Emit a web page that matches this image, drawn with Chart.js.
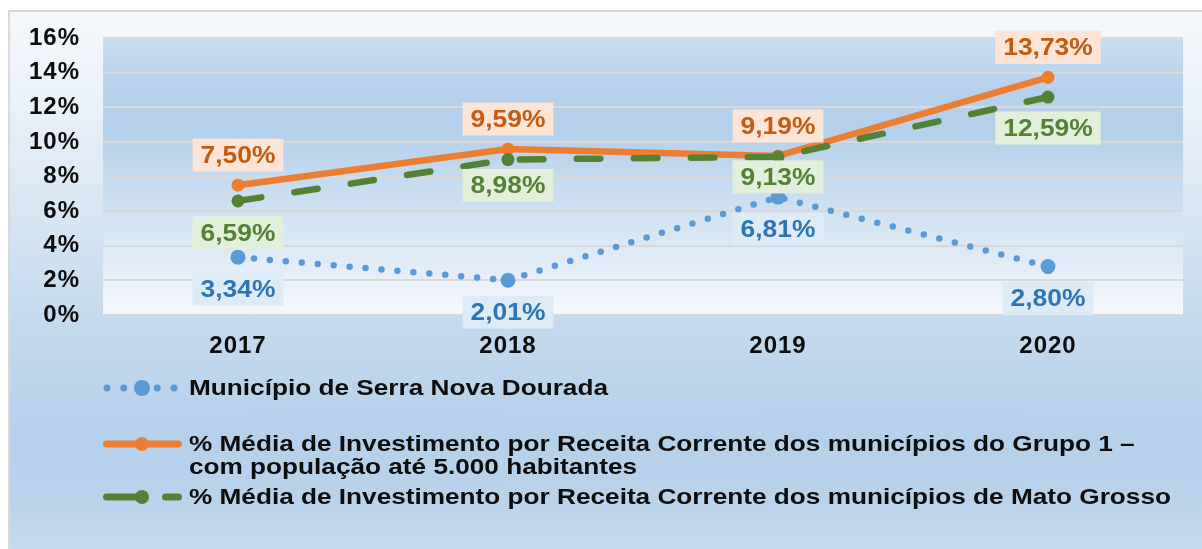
<!DOCTYPE html>
<html lang="pt-BR">
<head>
<meta charset="utf-8">
<script src="https://cdn.jsdelivr.net/npm/chart.js@4/dist/chart.umd.min.js"></script>
<style>
  html, body { margin: 0; padding: 0; background: #fff; }
  #moldura {
    position: absolute; left: 8px; top: 10px; width: 1200px; height: 545px;
    border: 2px solid #d9d9d9;
    background: linear-gradient(to bottom, #f5f8fc 0%, #e9f0f8 18%, #dae7f4 35%, #c3d9ee 58%, #b5d0ea 78%, #bad3eb 90%, #c8dcf0 100%);
  }
  #area { position: absolute; left: 0; top: 0; width: 1202px; height: 549px; }
</style>
</head>
<body>
<div id="moldura"></div>
<div id="area"><canvas id="grafico" width="1202" height="549"></canvas></div>
<script>
// Anos e percentuais de investimento por receita corrente
const anos = ['2017', '2018', '2019', '2020'];
const serraNovaDourada = [3.34, 2.01, 6.81, 2.80];
const grupo1 = [7.50, 9.59, 9.19, 13.73];
const matoGrosso = [6.59, 8.98, 9.13, 12.59];
const ticksY = [0, 2, 4, 6, 8, 10, 12, 14, 16];

const nomes = [
    'Município de Serra Nova Dourada',
    '% Média de Investimento por Receita Corrente dos municípios do Grupo 1 –\ncom população até 5.000 habitantes',
    '% Média de Investimento por Receita Corrente dos municípios de Mato Grosso'
];

const FONTE = '"Liberation Sans", Arial, sans-serif';

function formatarPct(v) {
    return v.toFixed(2).replace('.', ',') + '%';
}

// fundo degradê da área de plotagem
const fundoPlot = {
    id: 'fundoPlot',
    beforeDraw(chart) {
        const {ctx, chartArea: a} = chart;
        const g = ctx.createLinearGradient(0, a.top, 0, a.bottom);
        g.addColorStop(0, '#c9ddf0');
        g.addColorStop(0.2, '#b5d0ea');
        g.addColorStop(0.35, '#b5d0ea');
        g.addColorStop(0.5, '#c4daee');
        g.addColorStop(0.7, '#d7e6f4');
        g.addColorStop(0.85, '#e5eef8');
        g.addColorStop(1, '#f5f8fc');
        ctx.save();
        ctx.fillStyle = g;
        ctx.fillRect(a.left, a.top, a.right - a.left, a.bottom - a.top);
        ctx.restore();
        // espaçamento das letras dos eixos
        ctx.letterSpacing = '1px';
    },
    afterDraw(chart) {
        chart.ctx.letterSpacing = '0px';
    }
};

// rótulos de valor com caixa colorida
const rotulos = {
    id: 'rotulos',
    afterDatasetsDraw(chart) {
        const ctx = chart.ctx;
        ctx.save();
        ctx.letterSpacing = '0px';
        ctx.font = 'bold 24px ' + FONTE;
        ctx.textAlign = 'center';
        ctx.textBaseline = 'middle';
        chart.data.datasets.forEach((ds, i) => {
            const meta = chart.getDatasetMeta(i);
            meta.data.forEach((pt, j) => {
                const txt = formatarPct(ds.data[j]);
                const dy = Array.isArray(ds.rotuloDy) ? ds.rotuloDy[j] : ds.rotuloDy;
                const cx = pt.x, cy = pt.y + dy;
                const w = ctx.measureText(txt).width * 1.1 + 16;
                const h = 33;
                ctx.fillStyle = ds.rotuloFundo;
                ctx.fillRect(cx - w / 2, cy - h / 2, w, h);
                ctx.save();
                ctx.translate(cx, cy + 1);
                ctx.scale(1.1, 1);
                ctx.fillStyle = ds.rotuloCor;
                ctx.fillText(txt, 0, 0);
                ctx.restore();
            });
        });
        ctx.restore();
    }
};

// legenda desenhada abaixo do gráfico
const legenda = {
    id: 'legenda',
    afterDraw(chart) {
        const ctx = chart.ctx;
        const linhasY = [388, 444, 497];
        const x0 = 103, x1 = 182, xm = 142, xt = 189;
        ctx.save();
        ctx.letterSpacing = '0px';
        chart.data.datasets.forEach((ds, i) => {
            const y = linhasY[i];
            ctx.save();
            ctx.strokeStyle = ds.borderColor;
            ctx.lineWidth = ds.borderWidth + 0.5;
            ctx.lineCap = 'round';
            ctx.beginPath();
            if (i === 0) {
                ctx.setLineDash([0, 16.75]);
                ctx.moveTo(107, y); ctx.lineTo(175, y);
            } else if (i === 2) {
                ctx.setLineDash([38, 21]);
                ctx.moveTo(106.5, y); ctx.lineTo(178.5, y);
            } else {
                ctx.moveTo(x0 + 3.5, y); ctx.lineTo(x1 - 3.5, y);
            }
            ctx.stroke();
            ctx.setLineDash([]);
            ctx.fillStyle = ds.pointBackgroundColor;
            ctx.beginPath();
            ctx.arc(xm, y, ds.pointRadius + 0.5, 0, Math.PI * 2);
            ctx.fill();
            ctx.restore();

            const partes = ds.label.split('\n');
            ctx.font = 'bold 22px ' + FONTE;
            ctx.fillStyle = '#0d0d0d';
            ctx.textBaseline = 'middle';
            ctx.textAlign = 'left';
            partes.forEach((p, k) => {
                ctx.save();
                ctx.translate(xt, y + 1 + k * 23);
                ctx.scale(1.19, 1);
                ctx.fillText(p, 0, 0);
                ctx.restore();
            });
        });
        ctx.restore();
    }
};

new Chart(document.getElementById('grafico'), {
    type: 'line',
    data: {
        labels: anos,
        datasets: [
            {
                label: nomes[0],
                data: serraNovaDourada,
                borderColor: '#5b9bd5',
                backgroundColor: '#5b9bd5',
                pointBackgroundColor: '#5b9bd5',
                borderWidth: 6.5,
                borderDash: [0, 16],
                borderCapStyle: 'round',
                pointRadius: 7.5,
                pointBorderWidth: 0,
                order: 2,
                rotuloDy: 32,
                rotuloFundo: '#ddebf7',
                rotuloCor: '#2e75b6'
            },
            {
                label: nomes[1],
                data: grupo1,
                borderColor: '#ed7d31',
                backgroundColor: '#ed7d31',
                pointBackgroundColor: '#ed7d31',
                borderWidth: 6.5,
                borderCapStyle: 'round',
                borderJoinStyle: 'round',
                pointRadius: 6.5,
                pointBorderWidth: 0,
                order: 1,
                rotuloDy: -30,
                rotuloFundo: '#fce4d6',
                rotuloCor: '#c55a11'
            },
            {
                label: nomes[2],
                data: matoGrosso,
                borderColor: '#548235',
                backgroundColor: '#548235',
                pointBackgroundColor: '#548235',
                borderWidth: 6.5,
                borderDash: [23.5, 33.5],
                borderCapStyle: 'round',
                pointRadius: 6.5,
                pointBorderWidth: 0,
                order: 0,
                rotuloDy: [32, 26, 20, 31],
                rotuloFundo: '#e2efda',
                rotuloCor: '#548235'
            }
        ]
    },
    options: {
        responsive: false,
        animation: false,
        devicePixelRatio: 1,
        layout: { padding: { left: 0, top: 38, right: 19, bottom: 174 } },
        elements: { line: { tension: 0 } },
        plugins: {
            legend: { display: false },
            tooltip: { enabled: false }
        },
        scales: {
            x: {
                offset: true,
                grid: { display: false },
                border: { display: false },
                ticks: {
                    color: '#0d0d0d',
                    padding: 9,
                    font: { family: FONTE, size: 24, weight: 'bold' }
                },
                afterFit(scale) { scale.height = 60; }
            },
            y: {
                min: 0,
                max: 16,
                afterBuildTicks(scale) {
                    scale.ticks = ticksY.map(v => ({ value: v }));
                },
                grid: { color: '#d9d9d9', lineWidth: 2, drawTicks: false },
                border: { display: false },
                ticks: {
                    color: '#0d0d0d',
                    padding: 23,
                    font: { family: FONTE, size: 24, weight: 'bold' },
                    callback: v => v + '%'
                },
                afterFit(scale) { scale.width = 103; }
            }
        }
    },
    plugins: [fundoPlot, rotulos, legenda]
});
</script>
</body>
</html>
